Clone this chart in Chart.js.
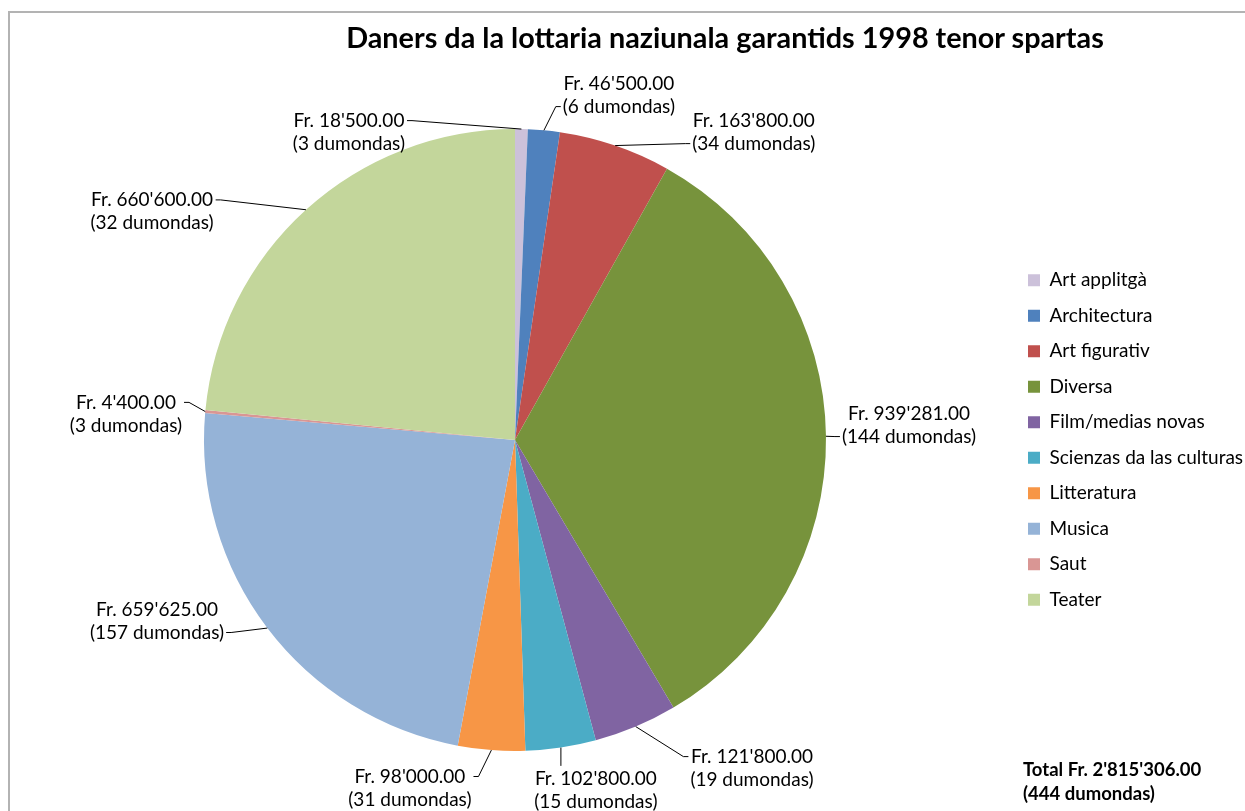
<!DOCTYPE html>
<html>
<head>
<meta charset="utf-8">
<script src="https://cdn.jsdelivr.net/npm/chart.js@4.4.1/dist/chart.umd.min.js"></script>
<style>
  body { margin: 0; background: #fff; }
  #wrap { position: relative; width: 1245px; height: 811px; overflow: hidden; }
  #frame { position: absolute; left: 8px; top: 11px; width: 1300px; height: 900px;
           border-left: 2px solid #b3b3b3; border-top: 2px solid #b3b3b3; }
  #title { position: absolute; left: 725px; top: 20px; transform: translateX(-50%);
           white-space: nowrap; font: bold 28.8px Lato, sans-serif; line-height: 34px; color: #000; }
  #total { position: absolute; left: 1023px; top: 757px; font: bold 18.5px Lato, sans-serif;
           line-height: 24px; color: #000; }
  canvas { position: absolute; left: 0; top: 0; }
</style>
</head>
<body>
<div id="wrap">
  <div id="frame"></div>
  <canvas id="pie" width="1245" height="811"></canvas>
  <div id="title">Daners da la lottaria naziunala garantids 1998 tenor spartas</div>
  <div id="total">Total Fr. 2'815'306.00<br>(444 dumondas)</div>
</div>
<script>
const categories = ["Art applitgà", "Architectura", "Art figurativ", "Diversa", "Film/medias novas",
                    "Scienzas da las culturas", "Litteratura", "Musica", "Saut", "Teater"];
const amounts = [18500, 46500, 163800, 939281, 121800, 102800, 98000, 659625, 4400, 660600];
const requests = [3, 6, 34, 144, 19, 15, 31, 157, 3, 32];
const colors = ["#CCC1DA", "#4F81BD", "#C0504D", "#77933C", "#8064A2",
                "#4BACC6", "#F79646", "#95B3D7", "#D99694", "#C3D69B"];

// where each value label sits, relative to the pie centre, in pie radii
const labelSpots = [[-0.534, -0.99], [0.334, -1.109], [0.768, -0.99], [1.267, -0.048], [0.762, 1.055],
                    [0.26, 1.125], [-0.338, 1.119], [-1.151, 0.582], [-1.251, -0.084], [-1.167, -0.735]];

const FONT = "Lato, sans-serif";
const LABEL_SIZE = 19;
const LH = 23;

function money(v) {
    return "Fr. " + String(v).replace(/\B(?=(\d{3})+(?!\d))/g, "'") + ".00";
}

const sliceLabels = {
    id: "sliceLabels",
    afterDatasetsDraw(chart) {
        const ctx = chart.ctx;
        const arcs = chart.getDatasetMeta(0).data;
        ctx.save();
        ctx.font = LABEL_SIZE + "px " + FONT;
        ctx.fillStyle = "#000";
        ctx.strokeStyle = "#000";
        ctx.lineWidth = 1;
        ctx.textBaseline = "middle";
        ctx.textAlign = "center";
        arcs.forEach((arc, i) => {
            const p = arc.getProps(["x", "y", "startAngle", "endAngle", "outerRadius"], true);
            const mid = (p.startAngle + p.endAngle) / 2;
            const ax = p.x + Math.cos(mid) * p.outerRadius;
            const ay = p.y + Math.sin(mid) * p.outerRadius;
            const lines = [money(amounts[i]), "(" + requests[i] + " dumondas)"];
            const w = Math.max(...lines.map(t => ctx.measureText(t).width));
            const cx = p.x + labelSpots[i][0] * p.outerRadius;
            const cy = p.y + labelSpots[i][1] * p.outerRadius;
            const left = cx - w / 2, right = cx + w / 2;
            const mids = [cy - LH / 2, cy + LH / 2];
            const near = Math.abs(ay - mids[0]) <= Math.abs(ay - mids[1]) ? mids[0] : mids[1];

            ctx.beginPath();
            ctx.moveTo(ax, ay);
            if (ax < left) {
                ctx.lineTo(left - 7, near);
                ctx.lineTo(left - 2, near);
            } else if (ax > right) {
                ctx.lineTo(right + 7, near);
                ctx.lineTo(right + 2, near);
            } else {
                ctx.lineTo(ax, ay < cy ? cy - LH - 1 : cy + LH + 1);
            }
            ctx.stroke();

            lines.forEach((t, k) => ctx.fillText(t, cx, mids[k]));
        });
        ctx.restore();
    }
};

// legend boxes start near x=1028, pie centre lands at x=515
const legendPad = 16.5;
const legendLeft = 1028 - legendPad;
const padLeft = 2 * 515 - legendLeft;

new Chart(document.getElementById("pie"), {
    type: "pie",
    data: {
        labels: categories,
        datasets: [{
            data: amounts,
            backgroundColor: colors,
            borderWidth: 0,
            hoverOffset: 0
        }]
    },
    options: {
        responsive: false,
        animation: false,
        events: [],
        layout: { padding: { top: 129, bottom: 60, left: padLeft, right: 0 } },
        plugins: {
            title: { display: false },
            tooltip: { enabled: false },
            legend: {
                position: "right",
                align: "center",
                maxWidth: 1245 - legendLeft,
                labels: {
                    color: "#000",
                    font: { family: FONT, size: LABEL_SIZE },
                    boxWidth: 12,
                    boxHeight: 12,
                    padding: legendPad
                }
            }
        }
    },
    plugins: [sliceLabels]
});
</script>
</body>
</html>
